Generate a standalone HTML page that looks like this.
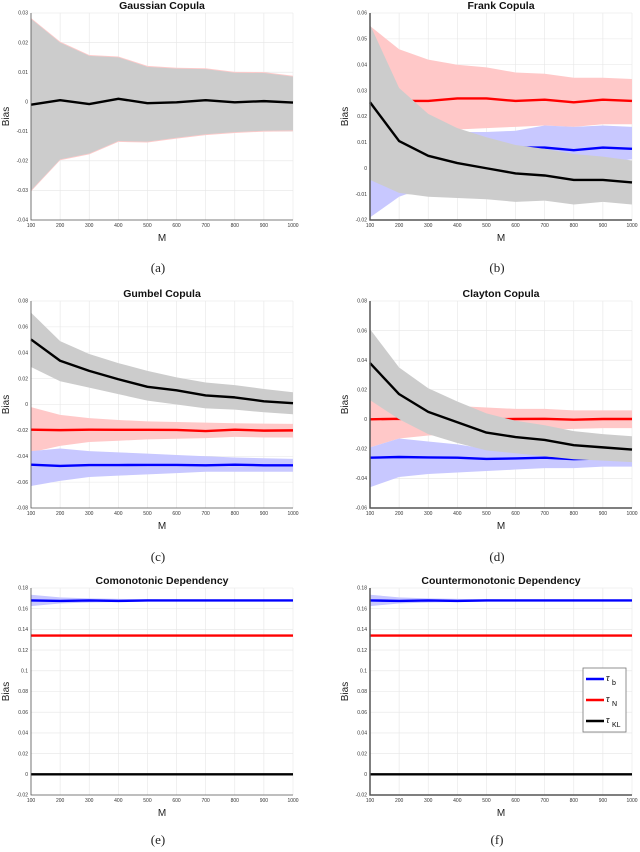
<!DOCTYPE html>
<html><head><meta charset="utf-8">
<style>
html,body{margin:0;padding:0;background:#fff;}
svg{display:block;font-family:"Liberation Sans",sans-serif;}
</style></head>
<body>
<svg id="fig" width="640" height="852" viewBox="0 0 640 852"></svg>
<script>
const mValues=[100,200,300,400,500,600,700,800,900,1000];
const xTicks=[100,200,300,400,500,600,700,800,900,1000];
// (a) Gaussian
const aBlack=[-0.001,0.0005,-0.0008,0.001,-0.0005,-0.0002,0.0005,-0.0002,0.0002,-0.0003];
const aGrayUp=[0.028,0.020,0.0155,0.015,0.0118,0.0112,0.011,0.0098,0.0097,0.0085];
const aGrayLo=[-0.030,-0.0195,-0.0175,-0.0133,-0.0135,-0.0122,-0.011,-0.0103,-0.0098,-0.0097];
const aYTicks=[0.03,0.02,0.01,0,-0.01,-0.02,-0.03,-0.04];
// (b) Frank
const bBlack=[0.0255,0.0105,0.0048,0.002,0,-0.002,-0.0028,-0.0045,-0.0045,-0.0055];
const bGrayUp=[0.0555,0.031,0.021,0.0155,0.012,0.009,0.0075,0.0055,0.0045,0.003];
const bGrayLo=[-0.0045,-0.0095,-0.011,-0.0115,-0.012,-0.013,-0.0125,-0.014,-0.013,-0.014];
const bRed=[0.026,0.026,0.026,0.027,0.027,0.026,0.0265,0.0255,0.0265,0.026];
const bRedUp=[0.055,0.046,0.042,0.040,0.039,0.037,0.0365,0.035,0.035,0.0345];
const bRedLo=[0.005,0.01,0.013,0.015,0.0155,0.016,0.0165,0.016,0.017,0.017];
const bBlue=[0.004,0.006,0.007,0.0075,0.008,0.008,0.008,0.007,0.008,0.0075];
const bBlueUp=[0.02,0.016,0.015,0.014,0.014,0.0145,0.0165,0.016,0.0165,0.016];
const bBlueLo=[-0.019,-0.011,-0.007,-0.004,-0.002,0,0.001,0.001,0.002,0.0035];
const bYTicks=[0.06,0.05,0.04,0.03,0.02,0.01,0,-0.01,-0.02];
// (c) Gumbel
const cBlack=[0.0503,0.0338,0.026,0.0195,0.0137,0.011,0.007,0.0055,0.0025,0.001];
const cGrayUp=[0.071,0.049,0.039,0.032,0.026,0.021,0.017,0.015,0.012,0.0095];
const cGrayLo=[0.029,0.018,0.013,0.008,0.003,0.000,-0.003,-0.004,-0.006,-0.0075];
const cRed=[-0.0195,-0.0198,-0.0195,-0.0196,-0.0196,-0.0197,-0.0205,-0.0195,-0.0202,-0.02];
const cRedUp=[-0.002,-0.008,-0.0105,-0.012,-0.013,-0.0135,-0.014,-0.0145,-0.0148,-0.015];
const cRedLo=[-0.037,-0.032,-0.029,-0.028,-0.027,-0.0265,-0.026,-0.025,-0.0255,-0.0255];
const cBlue=[-0.0465,-0.0475,-0.0468,-0.0468,-0.0467,-0.0467,-0.047,-0.0465,-0.047,-0.047];
const cBlueUp=[-0.036,-0.034,-0.036,-0.037,-0.038,-0.039,-0.040,-0.041,-0.0415,-0.042];
const cBlueLo=[-0.063,-0.059,-0.056,-0.055,-0.054,-0.053,-0.052,-0.052,-0.052,-0.052];
const cYTicks=[0.08,0.06,0.04,0.02,0,-0.02,-0.04,-0.06,-0.08];
// (d) Clayton
const dBlack=[0.038,0.017,0.005,-0.002,-0.009,-0.012,-0.014,-0.0175,-0.019,-0.0205];
const dGrayUp=[0.061,0.035,0.021,0.012,0.004,-0.001,-0.004,-0.008,-0.010,-0.0115];
const dGrayLo=[0.013,0.000,-0.010,-0.016,-0.021,-0.023,-0.025,-0.027,-0.028,-0.029];
const dRed=[0,0.0003,0,0,0,0.0002,0.0003,-0.0003,0.0002,0.0002];
const dRedUp=[0.014,0.011,0.010,0.009,0.008,0.007,0.007,0.006,0.006,0.006];
const dRedLo=[-0.019,-0.013,-0.011,-0.010,-0.009,-0.008,-0.007,-0.0065,-0.006,-0.006];
const dBlue=[-0.026,-0.0255,-0.0258,-0.026,-0.0268,-0.0265,-0.026,-0.027,-0.0265,-0.0265];
const dBlueUp=[-0.019,-0.013,-0.015,-0.017,-0.020,-0.022,-0.023,-0.025,-0.026,-0.027];
const dBlueLo=[-0.046,-0.039,-0.037,-0.036,-0.035,-0.034,-0.033,-0.033,-0.032,-0.032];
const dYTicks=[0.08,0.06,0.04,0.02,0,-0.02,-0.04,-0.06];
// (e)/(f) monotonic
const eBlack=[0,0,0,0,0,0,0,0,0,0];
const eRed=[0.134,0.134,0.134,0.134,0.134,0.134,0.134,0.134,0.134,0.134];
const eRedUp=[0.135,0.1345,0.1344,0.1343,0.1342,0.1342,0.1342,0.1342,0.1342,0.1342];
const eRedLo=[0.133,0.1335,0.1336,0.1337,0.1338,0.1338,0.1338,0.1338,0.1338,0.1338];
const eBlue=[0.168,0.1675,0.168,0.1675,0.168,0.168,0.168,0.168,0.168,0.168];
const eBlueUp=[0.1735,0.171,0.170,0.1695,0.169,0.1688,0.1686,0.1685,0.1684,0.1683];
const eBlueLo=[0.1625,0.165,0.166,0.1665,0.167,0.1672,0.1674,0.1675,0.1676,0.1677];
const eYTicks=[0.18,0.16,0.14,0.12,0.1,0.08,0.06,0.04,0.02,0,-0.02];

const NS="http://www.w3.org/2000/svg";
const svg=document.getElementById('fig');
function mk(tag,attrs,parent){const e=document.createElementNS(NS,tag);for(const k in attrs)e.setAttribute(k,attrs[k]);(parent||svg).appendChild(e);return e;}

function panel(o){
  const g=mk('g',{});
  
  
  const x0=o.x0,x1=o.x0+262,y0=o.y0,y1=o.y0+207;
  const ymax=o.yt[0],ymin=o.yt[o.yt.length-1];
  const sx=v=>x0+(v-100)/900*(x1-x0);
  const sy=v=>y0+(ymax-v)/(ymax-ymin)*(y1-y0);
  // grid
  o.yt.forEach(t=>{const l=mk('line',{x1:x0,x2:x1,y1:sy(t),y2:sy(t),stroke:'#e6e6e6','stroke-width':0.6},g);
    });
  xTicks.forEach(t=>{const l=mk('line',{x1:sx(t),x2:sx(t),y1:y0,y2:y1,stroke:'#e6e6e6','stroke-width':0.6},g);
    });
  function band(up,lo,col,nm){
    let d='M'+mValues.map((m,i)=>sx(m)+','+sy(up[i])).join('L');
    d+='L'+mValues.slice().reverse().map((m,j)=>{const i=mValues.length-1-j;return sx(m)+','+sy(lo[i]);}).join('L')+'Z';
    const p=mk('path',{d:d,fill:col,stroke:'none'},g);
    
  }
  function line(vals,col,nm){
    const d='M'+mValues.map((m,i)=>sx(m)+','+sy(vals[i])).join('L');
    const p=mk('path',{d:d,fill:'none',stroke:col,'stroke-width':2.4,'stroke-linejoin':'round'},g);
    
  }
  if(o.red){band(o.redUp,o.redLo,'#ffc8c8','tau-n-band');line(o.red,'#ff0000','tau-n-line');}
  if(o.blue){band(o.blueUp,o.blueLo,'#c8c8ff','tau-b-band');line(o.blue,'#0000ff','tau-b-line');}
  if(o.grayUp){
    if(o.pinkEdge){
      const up=o.grayUp.map(v=>v+0.0003),lo=o.grayLo.map(v=>v-0.0003);
      band(up,lo,'#ffcaca','tau-n-band');
    }
    band(o.grayUp,o.grayLo,'#cccccc','tau-kl-band');
  }
  line(o.black,'#000000','tau-kl-line');
  // axes
  const ax=mk('path',{d:`M${x0},${y0}V${y1}H${x1}`,fill:'none',stroke:'#555','stroke-width':o.thickAxis?1.5:0.8},g);
  
  o.yt.forEach(t=>{
    const tx=mk('text',{x:x0-3,y:sy(t)+1.7,'font-size':5,'text-anchor':'end',fill:'#333'},g);
    tx.textContent=String(t);
    
  });
  xTicks.forEach(t=>{
    const tx=mk('text',{x:sx(t),y:y1+7,'font-size':5,'text-anchor':'middle',fill:'#333'},g);
    tx.textContent=String(t);
    
  });
  const ti=mk('text',{x:(x0+x1)/2,y:y0-4,'font-size':10.5,'font-weight':'bold','text-anchor':'middle',fill:'#111'},g);
  ti.textContent=o.title;
  const xl=mk('text',{x:(x0+x1)/2,y:y1+21,'font-size':10,'text-anchor':'middle',fill:'#222'},g);
  xl.textContent='M';
  const yc=(y0+y1)/2;
  const yl=mk('text',{x:x0-22,y:yc,'font-size':10,'text-anchor':'middle',fill:'#222',transform:`rotate(-90 ${x0-22} ${yc})`},g);
  yl.textContent='Bias';
  const cap=mk('text',{x:(x0+x1)/2-4,y:o.capY,'font-size':13,'text-anchor':'middle',fill:'#222','font-family':'Liberation Serif, serif'},g);
  cap.textContent=o.cap;
}

panel({name:'gaussian-panel',title:'Gaussian Copula',cap:'(a)',x0:31,y0:13,capY:272,yt:aYTicks,black:aBlack,grayUp:aGrayUp,grayLo:aGrayLo,pinkEdge:true});
panel({name:'frank-panel',title:'Frank Copula',cap:'(b)',x0:370,y0:13,capY:272,yt:bYTicks,black:bBlack,grayUp:bGrayUp,grayLo:bGrayLo,red:bRed,redUp:bRedUp,redLo:bRedLo,blue:bBlue,blueUp:bBlueUp,blueLo:bBlueLo,thickAxis:true});
panel({name:'gumbel-panel',title:'Gumbel Copula',cap:'(c)',x0:31,y0:301,capY:561,yt:cYTicks,black:cBlack,grayUp:cGrayUp,grayLo:cGrayLo,red:cRed,redUp:cRedUp,redLo:cRedLo,blue:cBlue,blueUp:cBlueUp,blueLo:cBlueLo});
panel({name:'clayton-panel',title:'Clayton Copula',cap:'(d)',x0:370,y0:301,capY:561,yt:dYTicks,black:dBlack,grayUp:dGrayUp,grayLo:dGrayLo,red:dRed,redUp:dRedUp,redLo:dRedLo,blue:dBlue,blueUp:dBlueUp,blueLo:dBlueLo,thickAxis:true});
panel({name:'comonotonic-panel',title:'Comonotonic Dependency',cap:'(e)',x0:31,y0:588,capY:844,yt:eYTicks,black:eBlack,red:eRed,redUp:eRedUp,redLo:eRedLo,blue:eBlue,blueUp:eBlueUp,blueLo:eBlueLo});
panel({name:'countermonotonic-panel',title:'Countermonotonic Dependency',cap:'(f)',x0:370,y0:588,capY:844,yt:eYTicks,black:eBlack,red:eRed,redUp:eRedUp,redLo:eRedLo,blue:eBlue,blueUp:eBlueUp,blueLo:eBlueLo,thickAxis:true});
</script>
<svg style="position:absolute;left:0;top:0" width="640" height="852">
  <g font-family="Liberation Sans, sans-serif">
    <rect x="583" y="668" width="43" height="64" fill="#fff" stroke="#777" stroke-width="0.8"/>
    <g>
      <line x1="586" y1="679" x2="604" y2="679" stroke="#0000ff" stroke-width="2.4"/>
      <text x="606" y="681" font-size="10" font-style="italic" font-family="Liberation Serif, serif">τ</text><text x="612" y="685" font-size="7">b</text>
    </g>
    <g>
      <line x1="586" y1="700" x2="604" y2="700" stroke="#ff0000" stroke-width="2.4"/>
      <text x="606" y="702" font-size="10" font-style="italic" font-family="Liberation Serif, serif">τ</text><text x="612" y="706" font-size="7">N</text>
    </g>
    <g>
      <line x1="586" y1="721" x2="604" y2="721" stroke="#000" stroke-width="2.4"/>
      <text x="606" y="723" font-size="10" font-style="italic" font-family="Liberation Serif, serif">τ</text><text x="612" y="727" font-size="7">KL</text>
    </g>
  </g>
</svg>
</body></html>
